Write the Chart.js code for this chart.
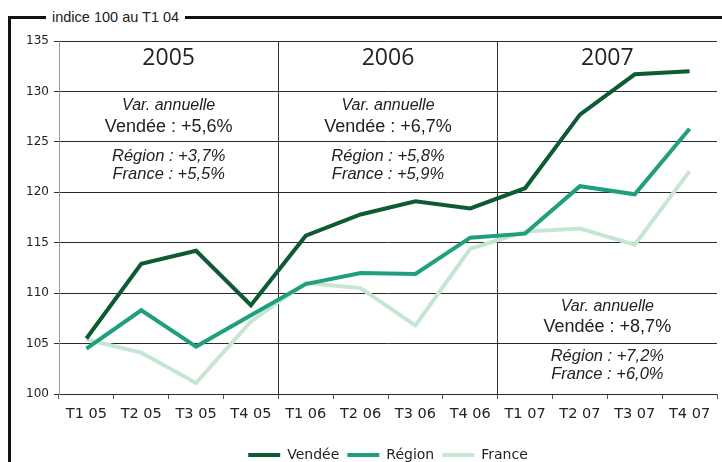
<!DOCTYPE html>
<html>
<head>
<meta charset="utf-8">
<script src="https://cdn.jsdelivr.net/npm/chart.js@4.4.0/dist/chart.umd.min.js"></script>
<style>
  html, body { margin: 0; padding: 0; background: #fff; }
  #wrap { position: relative; width: 722px; height: 462px; overflow: hidden; }
  #frame { position: absolute; left: 8px; top: 16px; width: 760px; height: 500px;
           border-left: 3px solid #111; border-top: 3px solid #111; }
  #ftitle { position: absolute; left: 46px; top: 8px; background: #fff; padding: 0 6px;
            font: 14.5px "Liberation Sans", Arial, sans-serif; color: #222; line-height: 18px; }
  canvas { position: absolute; left: 0; top: 0; }
</style>
</head>
<body>
<div id="wrap">
  <div id="frame"></div>
  <div id="ftitle">indice 100 au T1 04</div>
  <canvas id="c" width="722" height="462"></canvas>
</div>
<script>
const categories = ["T1 05","T2 05","T3 05","T4 05","T1 06","T2 06","T3 06","T4 06","T1 07","T2 07","T3 07","T4 07"];
const vendee = [105.5, 112.9, 114.2, 108.8, 115.7, 117.8, 119.1, 118.4, 120.4, 127.7, 131.7, 132.0];
const region = [104.5, 108.3, 104.7, 107.8, 110.9, 112.0, 111.9, 115.5, 115.9, 120.6, 119.8, 126.3];
const france = [105.4, 104.1, 101.1, 107.2, 111.0, 110.5, 106.8, 114.4, 116.1, 116.4, 114.8, 122.1];
const yTicks = [100, 105, 110, 115, 120, 125, 130, 135];
const years = ["2005", "2006", "2007"];
const varVendee = ["Vendée : +5,6%", "Vendée : +6,7%", "Vendée : +8,7%"];
const varRegion = ["Région : +3,7%", "Région : +5,8%", "Région : +7,2%"];
const varFrance = ["France : +5,5%", "France : +5,9%", "France : +6,0%"];

const annotPlugin = {
  id: 'annot',
  afterLayout(chart) {
    const lg = chart.legend;
    if (lg) { lg.top += 10; lg.bottom += 10; }
  },
  beforeDatasetsDraw(chart) {
    const ctx = chart.ctx;
    const xs = chart.scales.x, ys = chart.scales.y;
    ctx.save();
    ctx.fillStyle = '#222';
    ctx.textAlign = 'center';
    ctx.textBaseline = 'middle';
    for (let g = 0; g < 3; g++) {
      const cx = (xs.getPixelForValue(g * 4 + 1) + xs.getPixelForValue(g * 4 + 2)) / 2;
      ctx.font = '23px "Open Sans", "Noto Sans", sans-serif';
      ctx.fillText(years[g], cx, ys.getPixelForValue(133.3));
      const shift = g === 2 ? 19.9 : 0;
      ctx.font = 'italic 16px "Liberation Sans", Arial, sans-serif';
      ctx.fillText('Var. annuelle', cx, ys.getPixelForValue(128.6 - shift));
      ctx.font = '18px "Liberation Sans", Arial, sans-serif';
      ctx.fillText(varVendee[g], cx, ys.getPixelForValue(126.5 - shift));
      ctx.font = 'italic 16.5px "Liberation Sans", Arial, sans-serif';
      ctx.fillText(varRegion[g], cx, ys.getPixelForValue(123.6 - shift));
      ctx.fillText(varFrance[g], cx, ys.getPixelForValue(121.8 - shift));
    }
    ctx.restore();
  }
};

new Chart(document.getElementById('c'), {
  type: 'line',
  data: {
    labels: categories,
    datasets: [
      { label: 'Vendée', data: vendee, borderColor: '#0d5a33', backgroundColor: '#0d5a33', borderWidth: 4, pointRadius: 0, tension: 0 },
      { label: 'Région', data: region, borderColor: '#1f9f7e', backgroundColor: '#1f9f7e', borderWidth: 4, pointRadius: 0, tension: 0 },
      { label: 'France', data: france, borderColor: '#c7e6d2', backgroundColor: '#c7e6d2', borderWidth: 4, pointRadius: 0, tension: 0 }
    ]
  },
  options: {
    responsive: false,
    animation: false,
    layout: { padding: { left: 0, right: 5, top: 41, bottom: 0 } },
    plugins: {
      tooltip: { enabled: false },
      legend: {
        position: 'bottom',
        fullSize: false,
        labels: {
          boxWidth: 32, boxHeight: 4, padding: 8,
          color: '#222',
          font: { family: '"DejaVu Sans", Verdana, sans-serif', size: 14 },
          generateLabels(chart) {
            return chart.data.datasets.map((d, i) => ({
              text: d.label, fillStyle: d.borderColor, strokeStyle: d.borderColor,
              lineWidth: 0, hidden: false, datasetIndex: i, fontColor: '#222'
            }));
          }
        }
      }
    },
    scales: {
      x: {
        offset: true,
        grid: {
          offset: true,
          color: (c) => (c.index === 4 || c.index === 8) ? '#333' : 'rgba(0,0,0,0)',
          tickColor: '#555',
          tickLength: 5,
          lineWidth: 1
        },
        border: { display: false },
        ticks: {
          color: '#222', padding: 7, maxRotation: 0, autoSkip: false,
          font: { family: '"DejaVu Sans", Verdana, sans-serif', size: 14.5 }
        },
        afterFit(scale) { scale.height = 36; }
      },
      y: {
        min: 100, max: 135,
        afterBuildTicks(scale) { scale.ticks = yTicks.map(v => ({ value: v })); },
        grid: { color: '#2a2a2a', lineWidth: 1, tickColor: '#333', tickLength: 5 },
        border: { display: true, color: '#999', width: 1 },
        ticks: {
          color: '#222', padding: 5,
          font: { family: '"DejaVu Sans", Verdana, sans-serif', size: 12 }
        },
        afterFit(scale) { scale.width = 59; }
      }
    }
  },
  plugins: [annotPlugin]
});
</script>
</body>
</html>
